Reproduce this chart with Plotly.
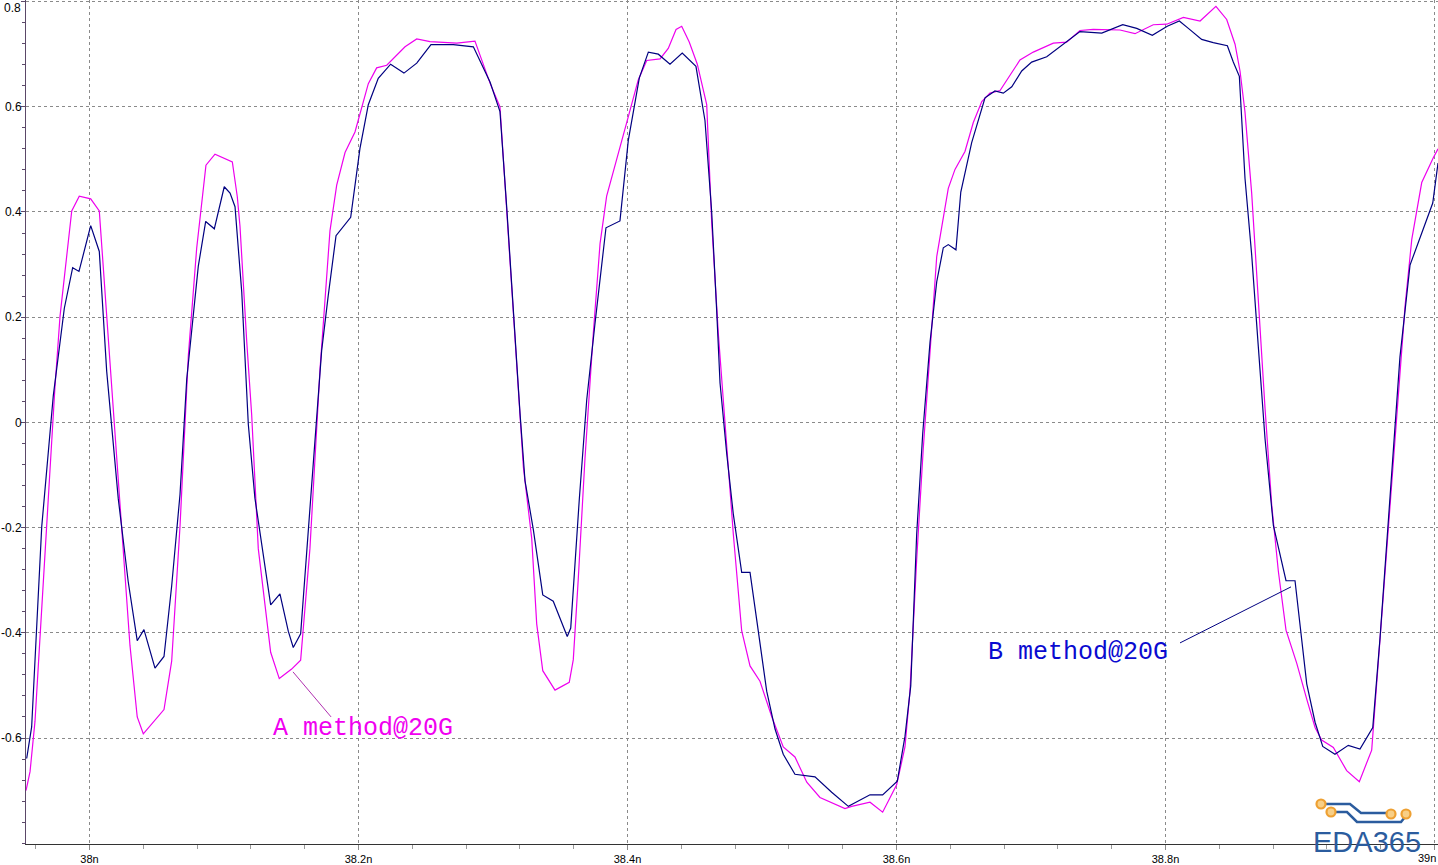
import plotly.graph_objects as go

# ---------------- data (time in ns, voltage in V) ----------------
t_b = [37.9533, 37.9570, 37.9645, 37.9731, 37.9813, 37.9875, 37.9922, 38.0009, 38.0073, 38.0128,
       38.0214, 38.0288, 38.0355, 38.0405, 38.0487, 38.0554, 38.0611, 38.0673, 38.0723, 38.0809,
       38.0864, 38.0928, 38.1002, 38.1045, 38.1082, 38.1132, 38.1181, 38.1230, 38.1347, 38.1416,
       38.1478, 38.1515, 38.1570, 38.1645, 38.1726, 38.1775, 38.1833, 38.1942, 38.2011, 38.2073,
       38.2147, 38.2239, 38.2338, 38.2433, 38.2539, 38.2705, 38.2854, 38.2978, 38.3052, 38.3102,
       38.3151, 38.3201, 38.3238, 38.3300, 38.3370, 38.3448, 38.3552, 38.3578, 38.3642, 38.3697,
       38.3758, 38.3840, 38.3944, 38.4006, 38.4088, 38.4155, 38.4229, 38.4316, 38.4407, 38.4509,
       38.4576, 38.4626, 38.4663, 38.4688, 38.4738, 38.4787, 38.4849, 38.4911, 38.4961, 38.5035,
       38.5097, 38.5158, 38.5245, 38.5394, 38.5518, 38.5642, 38.5803, 38.5897, 38.6006, 38.6063,
       38.6106, 38.6150, 38.6195, 38.6249, 38.6299, 38.6348, 38.6385, 38.6442, 38.6478, 38.6559,
       38.6658, 38.6732, 38.6794, 38.6857, 38.6931, 38.7005, 38.7117, 38.7240, 38.7364, 38.7526,
       38.7682, 38.7786, 38.7902, 38.8013, 38.8103, 38.8170, 38.8269, 38.8355, 38.8460, 38.8504,
       38.8549, 38.8591, 38.8641, 38.8690, 38.8740, 38.8802, 38.8851, 38.8896, 38.8963, 38.9000,
       38.9050, 38.9112, 38.9169, 38.9260, 38.9359, 38.9446, 38.9541, 38.9595, 38.9645, 38.9694,
       38.9743, 38.9818, 38.9905, 38.9987, 39.0026]
v_b = [-0.639, -0.579, -0.198, 0.051, 0.217, 0.294, 0.287, 0.374, 0.325, 0.097,
       -0.145, -0.303, -0.415, -0.394, -0.467, -0.445, -0.311, -0.137, 0.082, 0.297,
       0.382, 0.368, 0.448, 0.436, 0.41, 0.248, -0.004, -0.144, -0.347, -0.326,
       -0.397, -0.428, -0.402, -0.135, 0.136, 0.241, 0.355, 0.390, 0.521, 0.604,
       0.654, 0.681, 0.664, 0.683, 0.718, 0.718, 0.714, 0.647, 0.591, 0.409,
       0.204, 0.017, -0.111, -0.204, -0.328, -0.340, -0.407, -0.391, -0.145, 0.043,
       0.187, 0.370, 0.383, 0.536, 0.655, 0.704, 0.700, 0.681, 0.702, 0.677,
       0.574, 0.40, 0.213, 0.075, -0.060, -0.175, -0.285, -0.285, -0.376, -0.511,
       -0.583, -0.631, -0.669, -0.674, -0.703, -0.730, -0.708, -0.708, -0.682, -0.597,
       -0.501, -0.213, -0.021, 0.152, 0.267, 0.332, 0.338, 0.328, 0.438, 0.532,
       0.617, 0.630, 0.626, 0.638, 0.668, 0.685, 0.695, 0.719, 0.743, 0.740,
       0.756, 0.749, 0.736, 0.753, 0.763, 0.749, 0.728, 0.722, 0.716, 0.685,
       0.658, 0.464, 0.318, 0.144, -0.031, -0.196, -0.254, -0.301, -0.301, -0.390,
       -0.497, -0.570, -0.616, -0.631, -0.614, -0.621, -0.580, -0.410, -0.225, -0.041,
       0.124, 0.299, 0.362, 0.417, 0.493]

t_a = [37.9528, 37.9558, 37.9595, 37.9682, 37.9743, 37.9781, 37.9868, 37.9924, 38.0009, 38.0073,
       38.0103, 38.0177, 38.0239, 38.0301, 38.0355, 38.0400, 38.0554, 38.0611, 38.0673, 38.0735,
       38.0797, 38.0866, 38.0933, 38.1062, 38.1099, 38.1119, 38.1169, 38.1206, 38.1255, 38.1347,
       38.1411, 38.1503, 38.1570, 38.1639, 38.1714, 38.1788, 38.1838, 38.1900, 38.1974, 38.2024,
       38.2073, 38.2135, 38.2210, 38.2346, 38.2433, 38.2532, 38.2730, 38.2866, 38.2978, 38.3052,
       38.3102, 38.3226, 38.3288, 38.3325, 38.3370, 38.3461, 38.3567, 38.3597, 38.3634, 38.3684,
       38.3746, 38.3796, 38.3845, 38.3924, 38.3994, 38.4080, 38.4143, 38.4242, 38.4303, 38.4361,
       38.4403, 38.4459, 38.4519, 38.4589, 38.4626, 38.4675, 38.4738, 38.4787, 38.4849, 38.4911,
       38.4985, 38.5072, 38.5158, 38.5245, 38.5333, 38.5431, 38.5617, 38.5667, 38.5803, 38.5897,
       38.6001, 38.6063, 38.6100, 38.6150, 38.6199, 38.6249, 38.6299, 38.6385, 38.6435, 38.6509,
       38.6571, 38.6634, 38.6695, 38.6770, 38.6844, 38.6918, 38.7017, 38.7166, 38.7265, 38.7364,
       38.7463, 38.7563, 38.7662, 38.7773, 38.7909, 38.8009, 38.8133, 38.8257, 38.8375, 38.8455,
       38.8517, 38.8554, 38.8591, 38.8641, 38.8690, 38.8740, 38.8790, 38.8839, 38.8896, 38.8976,
       38.9050, 38.9112, 38.9161, 38.9248, 38.9347, 38.9441, 38.9533, 38.9595, 38.9656, 38.9719,
       38.9781, 38.9831, 38.9905, 38.9991, 39.0026]
v_a = [-0.70, -0.664, -0.568, -0.198, 0.066, 0.202, 0.402, 0.430, 0.425, 0.402,
       0.293, 0.029, -0.198, -0.424, -0.56, -0.592, -0.546, -0.454, -0.198, 0.127,
       0.331, 0.489, 0.510, 0.495, 0.429, 0.373, 0.154, 0.014, -0.240, -0.437,
       -0.487, -0.469, -0.452, -0.240, 0.101, 0.364, 0.451, 0.513, 0.552, 0.596,
       0.644, 0.674, 0.679, 0.714, 0.729, 0.724, 0.721, 0.725, 0.645, 0.600,
       0.409, -0.085, -0.221, -0.383, -0.472, -0.509, -0.494, -0.451, -0.298, -0.068,
       0.170, 0.340, 0.430, 0.502, 0.570, 0.651, 0.688, 0.691, 0.711, 0.747,
       0.753, 0.723, 0.681, 0.604, 0.38, 0.170, -0.040, -0.213, -0.396, -0.463,
       -0.492, -0.559, -0.617, -0.636, -0.684, -0.713, -0.734, -0.730, -0.722, -0.741,
       -0.689, -0.617, -0.511, -0.261, -0.050, 0.142, 0.315, 0.445, 0.481, 0.515,
       0.570, 0.610, 0.626, 0.631, 0.660, 0.689, 0.704, 0.721, 0.723, 0.745,
       0.747, 0.746, 0.746, 0.739, 0.756, 0.757, 0.770, 0.763, 0.791, 0.766,
       0.719, 0.668, 0.590, 0.435, 0.221, 0.027, -0.158, -0.283, -0.395, -0.458,
       -0.526, -0.580, -0.604, -0.618, -0.662, -0.683, -0.623, -0.410, -0.206, 0.008,
       0.221, 0.348, 0.456, 0.503, 0.520]

x_tickvals = [38.0, 38.2, 38.4, 38.6, 38.8, 39.0]
x_ticktext = ["38n", "38.2n", "38.4n", "38.6n", "38.8n", "39n"]
y_tickvals = [-0.6, -0.4, -0.2, 0.0, 0.2, 0.4, 0.6, 0.8]
y_ticktext = ["-0.6", "-0.4", "-0.2", "0", "0.2", "0.4", "0.6", "0.8"]

label_a = "A method@20G"
label_b = "B method@20G"
logo_text = "EDA365"

assert len(t_a) == len(v_a) and len(t_b) == len(v_b)

# ---------------- figure ----------------
W, H = 1438, 865
ML, MR, MT, MB = 26, 0, 0, 21
PW, PH = W - ML - MR, H - MT - MB


def P(px, py):
    """pixel -> paper coordinates (decorations only)"""
    return (px - ML) / PW, (H - MB - py) / PH


fig = go.Figure()
fig.add_trace(go.Scatter(x=t_a, y=v_a, mode="lines", name=label_a,
                         line=dict(color="#ee00ee", width=1.2)))
fig.add_trace(go.Scatter(x=t_b, y=v_b, mode="lines", name=label_b,
                         line=dict(color="#000080", width=1.2)))

grid = dict(showgrid=True, gridcolor="#8a8a8a", gridwidth=1, griddash="3px,3px")
tick_font = dict(family="Liberation Sans, Arial", size=11, color="#000")
ytick_font = dict(family="Liberation Sans, Arial", size=12, color="#000")

fig.update_xaxes(range=[37.9528, 39.0026], tickmode="array", tickvals=x_tickvals,
                 ticktext=x_ticktext[:-1] + [""], ticks="outside", ticklen=5, tickcolor="#8a8a8a",
                 showline=True, linecolor="#333333", linewidth=1, zeroline=False,
                 tickfont=tick_font,
                 minor=dict(dtick=0.04, tick0=38.0, ticks="outside", ticklen=4,
                            tickcolor="#9a9a9a", showgrid=False),
                 automargin=False, **grid)
fig.update_yaxes(range=[-0.8015, 0.8030], tickmode="array", tickvals=y_tickvals,
                 ticktext=y_ticktext[:-1] + [""], ticks="outside", ticklen=4, tickcolor="#5b4868",
                 showline=True, linecolor="#5b4868", linewidth=1, zeroline=False,
                 tickfont=ytick_font, ticklabelstandoff=-3,
                 minor=dict(dtick=0.04, tick0=0.0, ticks="outside", ticklen=3,
                            tickcolor="#5b4868", showgrid=False),
                 automargin=False, **grid)

shapes = [
    dict(type="line", xref="x", yref="y", x0=38.1796, y0=-0.5599, x1=38.1513, y1=-0.4743,
         line=dict(color="#b030b0", width=1)),
    dict(type="line", xref="x", yref="y", x0=38.8108, y0=-0.4192, x1=38.8933, y1=-0.3127,
         line=dict(color="#000080", width=1)),
]


def path(pts):
    s = ""
    for i, (px, py) in enumerate(pts):
        x, y = P(px, py)
        s += ("M" if i == 0 else "L") + f"{x:.5f},{y:.5f} "
    return s.strip()


logo_blue = "#2b5c9e"
shapes.append(dict(type="path", xref="paper", yref="paper",
                   path=path([(1325, 804), (1350, 804), (1361, 813), (1387, 813)]),
                   line=dict(color=logo_blue, width=2.5)))
shapes.append(dict(type="path", xref="paper", yref="paper",
                   path=path([(1335, 812), (1347, 812), (1357, 822), (1401, 822), (1405, 817)]),
                   line=dict(color=logo_blue, width=2.5)))
for (cx, cy) in [(1321, 804), (1331, 812), (1391, 814), (1406, 814)]:
    x0, y0 = P(cx - 4.5, cy + 4.5)
    x1, y1 = P(cx + 4.5, cy - 4.5)
    shapes.append(dict(type="circle", xref="paper", yref="paper", x0=x0, y0=y0, x1=x1, y1=y1,
                       fillcolor="#f8cf86", line=dict(color="#eea032", width=2.2)))

lx, ly = P(1367, 842)
_, top_lab_y = P(0, 8)
_, bot_lab_y = P(0, 858)
annotations = [
    dict(x=38.2030, y=-0.5827, xref="x", yref="y", text=label_a, showarrow=False,
         font=dict(family="Liberation Mono, Courier New, monospace", size=25, color="#f000f0"),
         xanchor="center", yanchor="middle"),
    dict(x=38.7346, y=-0.4382, xref="x", yref="y", text=label_b, showarrow=False,
         font=dict(family="Liberation Mono, Courier New, monospace", size=25, color="#0a0ad0"),
         xanchor="center", yanchor="middle"),
    dict(x=lx, y=ly, xref="paper", yref="paper", text=logo_text, showarrow=False,
         font=dict(family="Liberation Sans, Arial", size=29, color=logo_blue),
         xanchor="center", yanchor="middle"),
    # edge labels (top y label, right-most x label) kept inside the page
    dict(x=P(23, 0)[0], y=top_lab_y, xref="paper", yref="paper", text=y_ticktext[-1],
         showarrow=False, font=ytick_font, xanchor="right", yanchor="middle"),
    dict(x=1.0, y=bot_lab_y, xref="paper", yref="paper", text=x_ticktext[-1],
         showarrow=False, font=tick_font, xanchor="right", yanchor="middle"),
]

fig.update_layout(width=W, height=H, margin=dict(l=ML, r=MR, t=MT, b=MB, pad=0),
                  plot_bgcolor="white", paper_bgcolor="white", showlegend=False,
                  shapes=shapes, annotations=annotations)

fig.write_html("out.html", config={"displayModeBar": False},
               post_script="document.body.style.margin='0';")
